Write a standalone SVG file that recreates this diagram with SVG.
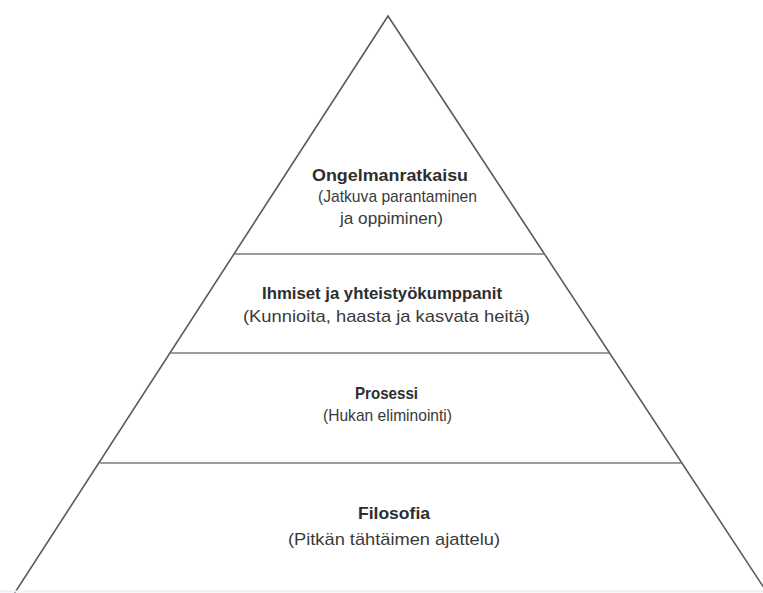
<svg xmlns="http://www.w3.org/2000/svg" width="763" height="593" viewBox="0 0 763 593">
  <style>
    .edge { fill: none; stroke: #5a5a5e; stroke-width: 1.6; stroke-linejoin: miter; }
    .div { stroke: #7a7a80; stroke-width: 1.6; }
    .t { font-family: "Liberation Sans Narrow", "Liberation Sans", Arial, sans-serif; font-size: 17px; text-anchor: middle; fill: #3a3a3a; }
    .b { font-weight: bold; fill: #2e2e2e; }
  </style>
  <rect width="763" height="593" fill="#ffffff"/>
  <g id="pyramid-outline">
    <polyline class="edge" points="14,594 388,16 768,594"/>
    <line class="div" x1="233" y1="254" x2="545" y2="254"/>
    <line class="div" x1="170" y1="353" x2="609" y2="353"/>
    <line class="div" x1="100" y1="463" x2="681" y2="463"/>
    <line x1="0" y1="591.5" x2="763" y2="591.5" stroke="#eef0f4" stroke-width="2"/>
  </g>
  <g id="level-ongelmanratkaisu">
    <text class="t b" x="390" y="181" textLength="156" lengthAdjust="spacingAndGlyphs">Ongelmanratkaisu</text>
    <text class="t" x="397.5" y="202" textLength="159" lengthAdjust="spacingAndGlyphs">(Jatkuva parantaminen</text>
    <text class="t" x="391.5" y="224" textLength="103" lengthAdjust="spacingAndGlyphs">ja oppiminen)</text>
  </g>
  <g id="level-ihmiset">
    <text class="t b" x="382" y="299" textLength="240" lengthAdjust="spacingAndGlyphs">Ihmiset ja yhteistyökumppanit</text>
    <text class="t" x="386.5" y="322" textLength="287" lengthAdjust="spacingAndGlyphs">(Kunnioita, haasta ja kasvata heitä)</text>
  </g>
  <g id="level-prosessi">
    <text class="t b" x="386.5" y="399" textLength="63" lengthAdjust="spacingAndGlyphs">Prosessi</text>
    <text class="t" x="387.5" y="421" textLength="129" lengthAdjust="spacingAndGlyphs">(Hukan eliminointi)</text>
  </g>
  <g id="level-filosofia">
    <text class="t b" x="394" y="519" textLength="72" lengthAdjust="spacingAndGlyphs">Filosofia</text>
    <text class="t" x="394" y="545" textLength="212" lengthAdjust="spacingAndGlyphs">(Pitkän tähtäimen ajattelu)</text>
  </g>
</svg>
